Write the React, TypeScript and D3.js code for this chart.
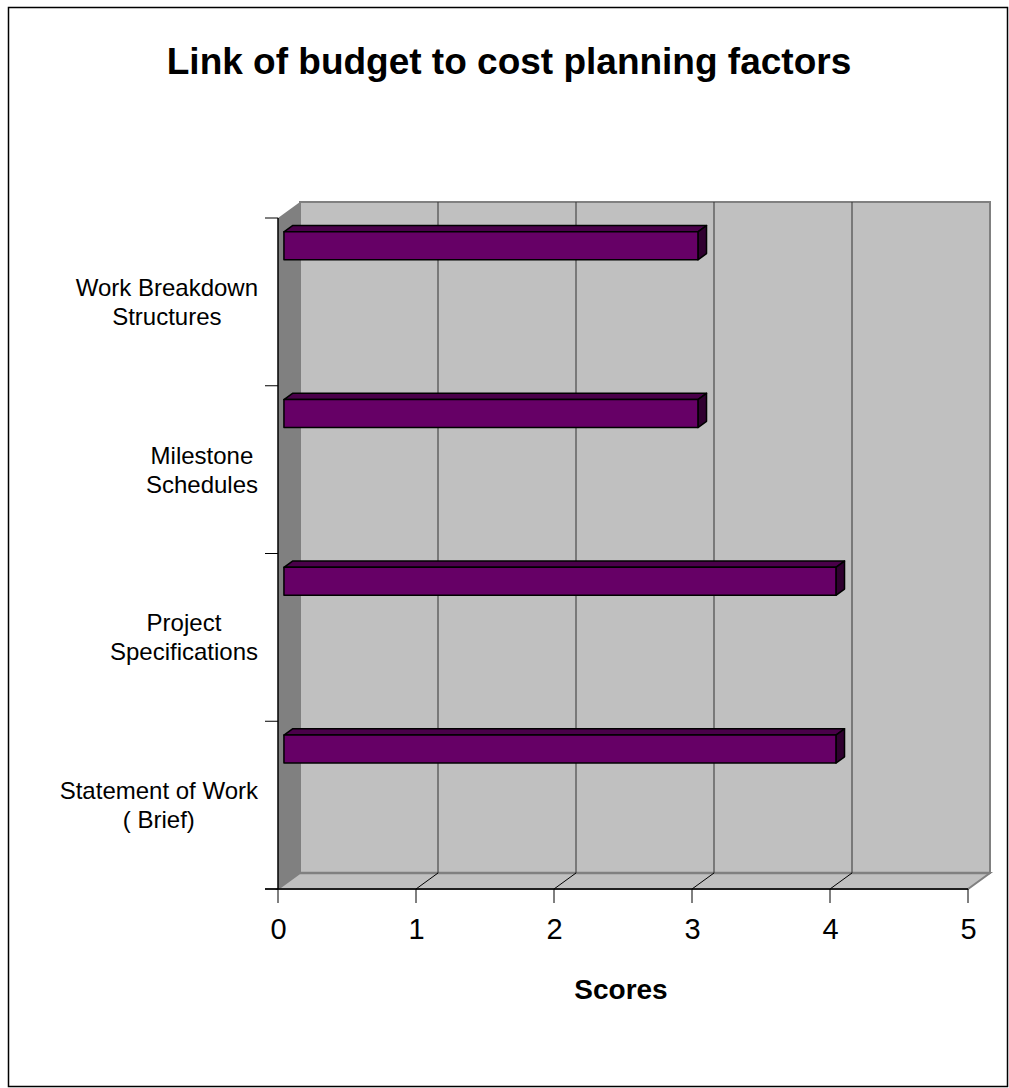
import React from "react";
import * as d3 from "d3";

const title = "Link of budget to cost planning factors";
const axisTitle = "Scores";
const categories = ["Statement of Work ( Brief)", "Project Specifications", "Milestone Schedules", "Work Breakdown Structures"];
const categoryLines = [["Statement of Work", "( Brief)"], ["Project", "Specifications"], ["Milestone", "Schedules"], ["Work Breakdown", "Structures"]];
const values = [4, 4, 3, 3];
const xTicks = [0, 1, 2, 3, 4, 5];

const FONT = "'Liberation Sans', Arial, Helvetica, sans-serif";

function measure(text: string, size: number, weight = "normal") {
  const c = document.createElement("canvas").getContext("2d");
  if (!c) return text.length * size * 0.5;
  c.font = `${weight} ${size}px 'Liberation Sans', Arial, sans-serif`;
  return c.measureText(text).width;
}

export default function App() {
  const W = 1009, H = 1088;
  const x = d3.scaleLinear().domain([0, 5]).range([278, 968]);
  const y = d3.scaleBand<string>().domain([...categories].reverse()).range([218, 889]).padding(0);
  const DX = 22, DY = -16;
  const yTop = 218, yBot = 889;
  const f0 = 0.27, f1 = 0.66;
  const labelSize = 24, lineH = 29, labelRight = 258;

  const pt = (px: number, py: number, f: number) => `${px + DX * f},${py + DY * f}`;

  return (
    <svg width={W} height={H} style={{ position: "absolute", left: 0, top: 0, background: "#fff" }} fontFamily={FONT}>
      <rect x={8.5} y={7.5} width={999} height={1079} fill="#fff" stroke="#000" strokeWidth={1.5} />
      <text x={509} y={74} textAnchor="middle" fontSize={37} fontWeight="bold">{title}</text>

      {/* back wall */}
      <rect x={x(0) + DX} y={yTop + DY} width={x(5) - x(0)} height={yBot - yTop} fill="#C0C0C0" stroke="#808080" strokeWidth={2} />
      {/* left wall */}
      <polygon points={`${pt(x(0), yTop, 0)} ${pt(x(0), yTop, 1)} ${pt(x(0), yBot, 1)} ${pt(x(0), yBot, 0)}`} fill="#808080" />
      {/* floor */}
      <polygon points={`${pt(x(0), yBot, 0)} ${pt(x(0), yBot, 1)} ${pt(x(5), yBot, 1)} ${pt(x(5), yBot, 0)}`} fill="#C0C0C0" stroke="#808080" strokeWidth={2} />
      <line x1={x(0) + DX} y1={yBot + DY} x2={x(5) + DX} y2={yBot + DY} stroke="#808080" strokeWidth={2.5} />

      {/* gridlines */}
      {xTicks.filter(t => t > 0 && t < 5).map(t => (
        <g key={t}>
          <line x1={x(t) + DX} y1={yTop + DY} x2={x(t) + DX} y2={yBot + DY} stroke="#333" strokeWidth={1} />
          <line x1={x(t)} y1={yBot} x2={x(t) + DX} y2={yBot + DY} stroke="#000" strokeWidth={1} />
        </g>
      ))}

      {/* axes */}
      <line x1={x(0)} y1={yTop} x2={x(0)} y2={yBot} stroke="#000" strokeWidth={1.5} />
      <line x1={265} y1={yBot} x2={x(5)} y2={yBot} stroke="#000" strokeWidth={1.5} />
      {xTicks.map(t => (
        <g key={t}>
          <line x1={x(t)} y1={yBot} x2={x(t)} y2={yBot + 14} stroke="#000" strokeWidth={1} />
          <text x={x(t) + 0.5} y={939} textAnchor="middle" fontSize={29}>{t}</text>
        </g>
      ))}
      {[...y.domain().map(c => y(c) as number), yBot].map((v, i) => (
        <line key={i} x1={265} y1={v} x2={x(0)} y2={v} stroke="#000" strokeWidth={1} />
      ))}

      {/* bars */}
      {categories.map((c, i) => {
        const b = y(c) as number;
        const bw = y.bandwidth();
        const t0 = b + bw * 0.108, t1 = b + bw * 0.275;
        const x0 = x(0), x1 = x(values[i]);
        return (
          <g key={c} stroke="#000" strokeWidth={1.5} strokeLinejoin="round">
            <polygon points={`${pt(x0, t0, f0)} ${pt(x0, t0, f1)} ${pt(x1, t0, f1)} ${pt(x1, t0, f0)}`} fill="#4A004A" />
            <polygon points={`${pt(x1, t0, f0)} ${pt(x1, t0, f1)} ${pt(x1, t1, f1)} ${pt(x1, t1, f0)}`} fill="#300030" />
            <polygon points={`${pt(x0, t0, f0)} ${pt(x1, t0, f0)} ${pt(x1, t1, f0)} ${pt(x0, t1, f0)}`} fill="#660066" />
          </g>
        );
      })}

      {/* category labels */}
      {categories.map((c, i) => {
        const lines = categoryLines[i];
        const maxW = Math.max(...lines.map(l => measure(l, labelSize)));
        const cx = labelRight - maxW / 2;
        const center = (y(c) as number) + y.bandwidth() / 2;
        const first = center - ((lines.length - 1) * lineH) / 2 + labelSize * 0.35;
        return (
          <text key={c} textAnchor="middle" fontSize={labelSize}>
            {lines.map((l, j) => (
              <tspan key={j} x={cx} y={first + j * lineH}>{l}</tspan>
            ))}
          </text>
        );
      })}

      <text x={621} y={999} textAnchor="middle" fontSize={28} fontWeight="bold">{axisTitle}</text>
    </svg>
  );
}
